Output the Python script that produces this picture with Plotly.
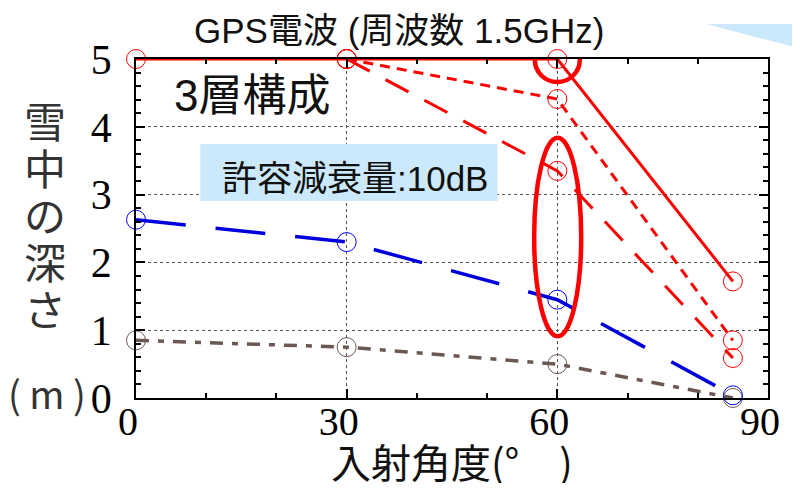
import plotly.graph_objects as go

# ---- data ----
angles = [0, 30, 60, 85]
red_solid = [5.0, 5.0, 5.0, 1.72]
red_short_x = [30, 60, 85]
red_short = [5.0, 4.41, 0.85]
red_long_x = [30, 60, 85]
red_long = [5.0, 3.35, 0.59]
blue_vals = [2.63, 2.30, 1.45, 0.04]
brown_vals = [0.85, 0.75, 0.50, 0.0]

x_ticks = [0, 30, 60, 90]
y_ticks = [0, 1, 2, 3, 4, 5]

title_text = "GPS電波 (周波数 1.5GHz)"
layer_text = "3層構成"
atten_text = "許容減衰量:10dB"
ytitle_text = "雪中の深さ"
yunit_text = "( m )"
xtitle_text = "入射角度(°　)"

CJK = "Noto Sans CJK JP"
MIX = "Liberation Sans, Noto Sans CJK JP"
SERIF = "Liberation Serif"

RED = "#ff0000"
BLUE = "#0000dd"
BROWN = "#6b5852"

fig = go.Figure()

def add_series(xs, ys, color, dash, width, mcolor):
    fig.add_trace(go.Scatter(
        x=xs, y=ys, mode="lines+markers",
        line=dict(color=color, width=width, dash=dash),
        marker=dict(symbol="circle-open", size=19, color=mcolor,
                    line=dict(width=1, color=mcolor)),
        showlegend=False, cliponaxis=False,
    ))

add_series(angles, brown_vals, BROWN, "13px,9px,6px,9px", 3.5, BROWN)
add_series(angles, blue_vals, BLUE, "50px,30px", 3.5, "#0000ff")
add_series(red_long_x, red_long, RED, "26px,18px", 3, RED)
add_series(red_short_x, red_short, RED, "10px,7px", 3, RED)
add_series(angles, red_solid, RED, "solid", 3, RED)

axis_common = dict(
    showline=True, linecolor="black", linewidth=1.5, mirror="ticks",
    ticks="inside", ticklen=9, tickwidth=1.5, tickcolor="black",
    showgrid=True, gridcolor="#555555", gridwidth=1, griddash="dot",
    zeroline=False,
)

fig.update_xaxes(range=[0, 90], tickvals=x_ticks, ticktext=[str(v) for v in x_ticks],
                 minor=dict(dtick=10, tick0=0, ticks="inside", ticklen=5, tickcolor="black", showgrid=False),
                 ticklabelstandoff=-13, ticklabelshift=-8,
                 tickfont=dict(family=SERIF, size=40, color="black"),
                 **axis_common)
fig.update_yaxes(range=[0, 5], tickvals=y_ticks, ticktext=[str(v) for v in y_ticks],
                 minor=dict(dtick=0.2, tick0=0, ticks="inside", ticklen=5, tickcolor="black", showgrid=False),
                 ticklabelstandoff=14,
                 tickfont=dict(family=SERIF, size=42, color="black"),
                 **axis_common)

# the page body has an 8px margin on every side; size the figure so the page is exactly 800x491
OFF = 8
W, H = 800 - 2 * OFF, 491 - 2 * OFF
PL, PR, PT, PB = 136, 774, 59, 398          # plot area in page pixels
L, T = PL - OFF, PT - OFF
R, B = W - (PR - OFF), H - (PB - OFF)

def px(x):
    return (x - PL) / (PR - PL)

def py(y):
    return (PB - y) / (PB - PT)

shapes = []
shapes.append(dict(type="path", xref="paper", yref="paper",
                   path=f"M {px(712)} {py(24)} L {px(800)} {py(24)} L {px(800)} {py(47)} Z",
                   fillcolor="#cbe9fb", line=dict(width=0), layer="above"))
shapes.append(dict(type="rect", xref="paper", yref="paper",
                   x0=px(201), x1=px(501), y0=py(201), y1=py(144),
                   fillcolor="#cbe9fb", line=dict(width=0), layer="above"))
shapes.append(dict(type="circle", xref="x", yref="y",
                   x0=56.8, x1=63.2, y0=4.66, y1=5.32,
                   line=dict(color=RED, width=4.5)))
shapes.append(dict(type="circle", xref="x", yref="y",
                   x0=56.7, x1=63.4, y0=0.91, y1=3.84,
                   line=dict(color=RED, width=4.5)))

def ann(text, x, y, family, size, color="#111111"):
    return dict(text=text, x=px(x), y=py(y), xref="paper", yref="paper",
                xanchor="center", yanchor="middle", showarrow=False,
                font=dict(family=family, size=size, color=color))

annotations = [
    ann(title_text, 402, 31, MIX, 35),
    ann(layer_text, 253, 95, MIX, 44),
    ann(atten_text, 357, 178, MIX, 35),
    ann(yunit_text, 46, 392, CJK, 38, "#333333"),
    ann(xtitle_text, 455, 461, CJK, 40),
]
for i, ch in enumerate(ytitle_text):
    annotations.append(ann(ch, 44, 119 + 47 * i, CJK, 42, "#333333"))

fig.update_layout(
    width=W, height=H,
    margin=dict(l=L, r=R, t=T, b=B, pad=0),
    paper_bgcolor="white", plot_bgcolor="white",
    shapes=shapes, annotations=annotations,
    showlegend=False,
)

fig.write_html("out.html")
